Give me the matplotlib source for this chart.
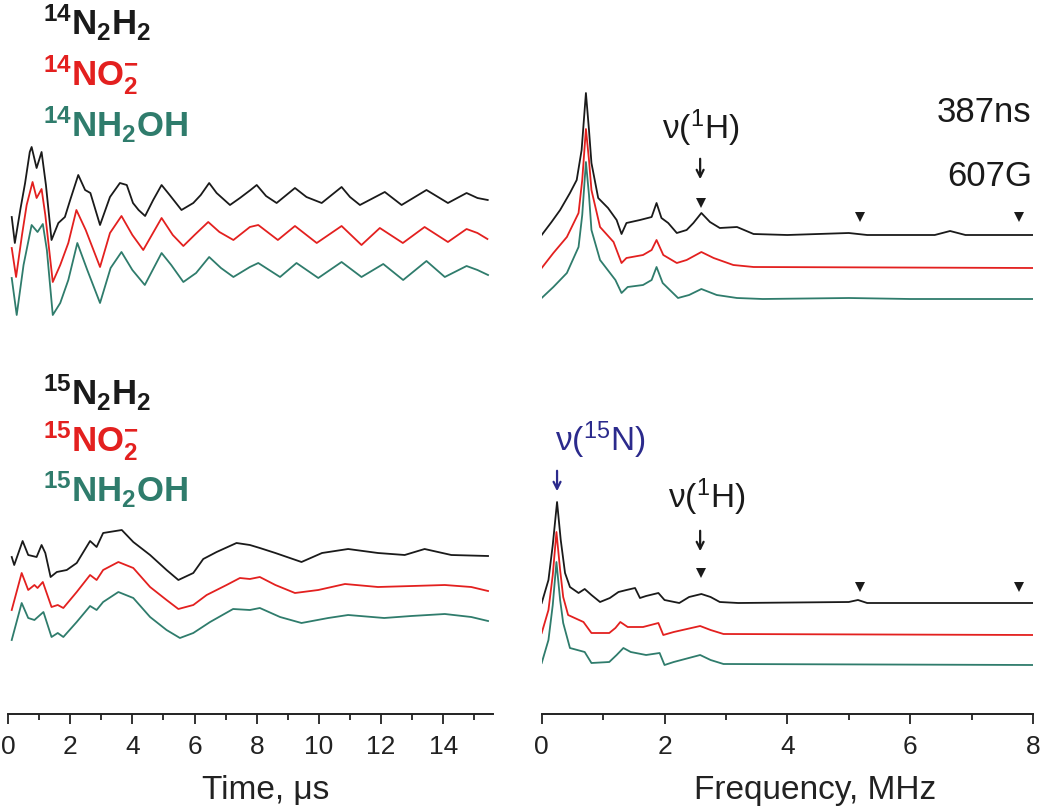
import numpy as np
import matplotlib
matplotlib.use("Agg")
import matplotlib.pyplot as plt

plt.rcParams['font.family'] = ['Liberation Sans', 'DejaVu Sans']
plt.rcParams['mathtext.fontset'] = 'custom'
plt.rcParams['mathtext.rm'] = 'Liberation Sans'
plt.rcParams['mathtext.bf'] = 'Liberation Sans:bold'
plt.rcParams['mathtext.it'] = 'Liberation Sans:italic'
plt.rcParams['mathtext.default'] = 'regular'

# ---------------- data (intensity in a.u., traces already vertically offset) -------------
# Time domain, 14N samples (top)
t14_n2h2 = [0.12, 0.22, 0.4, 0.55, 0.7, 0.76, 0.92, 1.08, 1.22, 1.40, 1.62, 1.83, 2.0, 2.26, 2.48, 2.65,
            2.96, 3.28, 3.6, 3.82, 4.02, 4.2, 4.41, 4.67, 4.94, 5.2, 5.58, 5.96, 6.2, 6.47, 6.71, 7.14,
            7.46, 7.8, 8.0, 8.3, 8.64, 9.23, 9.6, 10.09, 10.73, 11.0, 11.32, 12.12, 12.66, 13.46,
            14.15, 14.75, 15.1, 15.43]
y14_n2h2 = [497, 471, 505, 531, 562, 567, 546, 562, 529, 474, 491, 497, 514, 539, 524, 521,
            489, 517, 531, 529, 511, 504, 498, 514, 529, 519, 504, 511, 519, 531, 521, 509,
            516, 524, 529, 518, 511, 526, 517, 511, 527, 517, 509, 522, 509, 524,
            511, 521, 516, 514]

t14_no2 = [0.12, 0.26, 0.45, 0.6, 0.79, 0.92, 1.08, 1.2, 1.44, 1.68, 1.94, 2.2, 2.5, 2.96, 3.28, 3.65,
           4.0, 4.35, 4.94, 5.3, 5.64, 6.0, 6.44, 6.8, 7.25, 7.78, 8.05, 8.68, 9.23, 9.93, 10.73,
           11.37, 11.96, 12.7, 13.4, 14.15, 14.75, 15.1, 15.42]
y14_no2 = [466, 437, 479, 509, 532, 516, 525, 499, 432, 449, 471, 504, 484, 447, 481, 498,
           479, 464, 496, 479, 468, 479, 492, 482, 474, 487, 489, 474, 488, 471, 488,
           469, 486, 471, 487, 472, 485, 481, 475]

t14_nh2oh = [0.12, 0.28, 0.5, 0.76, 0.95, 1.12, 1.25, 1.44, 1.68, 1.94, 2.23, 2.55, 2.96, 3.3, 3.65,
             4.0, 4.4, 4.94, 5.25, 5.64, 6.05, 6.47, 6.85, 7.25, 7.78, 8.05, 8.75, 9.28, 9.98,
             10.73, 11.37, 12.07, 12.71, 13.46, 14.05, 14.75, 15.1, 15.44]
y14_nh2oh = [436, 399, 449, 489, 482, 490, 464, 399, 411, 434, 471, 444, 411, 446, 462,
             444, 429, 461, 449, 432, 441, 457, 446, 437, 447, 451, 437, 451, 436,
             452, 437, 450, 434, 453, 437, 448, 444, 439]

# Time domain, 15N samples (bottom)
t15_n2h2 = [0.12, 0.2, 0.47, 0.65, 0.92, 1.08, 1.2, 1.37, 1.57, 1.89, 2.21, 2.64, 2.85, 3.06, 3.66,
            4.03, 4.57, 5.1, 5.48, 5.96, 6.28, 6.71, 7.35, 7.78, 8.1, 8.6, 9.44, 10.1, 10.94,
            11.9, 12.76, 13.4, 14.26, 15.44]
y15_n2h2 = [157, 149, 173, 159, 157, 169, 161, 137, 142, 144, 151, 173, 167, 181, 184,
            172, 159, 144, 134, 141, 155, 162, 171, 169, 166, 161, 152, 161, 165,
            161, 159, 165, 159, 158]

t15_no2 = [0.12, 0.44, 0.65, 0.85, 0.95, 1.12, 1.4, 1.6, 1.78, 2.21, 2.64, 2.85, 3.06, 3.55, 4.03,
           4.57, 5.1, 5.48, 5.96, 6.39, 7.03, 7.46, 7.78, 8.1, 8.6, 9.23, 9.98, 10.84, 11.9,
           13.0, 14.05, 14.9, 15.44]
y15_no2 = [104, 141, 124, 129, 126, 132, 107, 109, 106, 122, 139, 134, 144, 152, 146,
           127, 114, 105, 109, 119, 129, 136, 135, 137, 129, 121, 124, 130, 127,
           128, 129, 127, 123]

t15_nh2oh = [0.12, 0.44, 0.65, 0.85, 1.14, 1.4, 1.6, 1.78, 2.21, 2.64, 2.85, 3.06, 3.55, 4.03, 4.57,
             5.1, 5.53, 5.96, 6.5, 7.24, 7.78, 8.1, 8.75, 9.44, 10.3, 10.94, 12.1, 12.97, 14.05,
             14.9, 15.44]
y15_nh2oh = [74, 111, 96, 94, 102, 77, 81, 77, 92, 108, 104, 112, 122, 116, 97,
             84, 76, 81, 92, 105, 104, 106, 97, 91, 96, 99, 96, 98, 100,
             97, 93]

# Frequency domain, 14N samples (top)
f14_n2h2 = [0, 0.16, 0.3, 0.46, 0.57, 0.65, 0.72, 0.77, 0.81, 0.92, 1.08, 1.22, 1.3, 1.38, 1.6, 1.79,
            1.87, 1.95, 2.06, 2.2, 2.36, 2.47, 2.6, 2.74, 2.9, 3.18, 3.45, 4.0, 5.0, 5.3, 6.4,
            6.65, 6.9, 8.0]
s14_n2h2 = [479, 492, 504, 521, 534, 564, 621, 584, 551, 516, 506, 494, 480, 491, 494, 497,
            511, 496, 491, 481, 484, 491, 501, 492, 486, 487, 480, 479, 481, 479, 479,
            483, 479, 479]

f14_no2 = [0, 0.19, 0.41, 0.6, 0.66, 0.72, 0.77, 0.81, 0.95, 1.17, 1.3, 1.38, 1.65, 1.79, 1.87,
           1.98, 2.2, 2.36, 2.6, 2.8, 3.12, 3.45, 8.0]
s14_no2 = [446, 461, 477, 501, 534, 585, 554, 524, 487, 472, 451, 456, 459, 464, 474,
           459, 451, 454, 462, 456, 449, 447, 446]

f14_nh2oh = [0, 0.19, 0.41, 0.6, 0.66, 0.72, 0.77, 0.81, 0.95, 1.2, 1.3, 1.4, 1.65, 1.79, 1.87,
             1.97, 2.22, 2.4, 2.6, 2.85, 3.18, 3.6, 5.0, 6.0, 8.0]
s14_nh2oh = [416, 427, 441, 467, 499, 552, 519, 484, 454, 434, 421, 427, 429, 434, 447,
             431, 416, 419, 425, 419, 416, 415, 416, 415, 415]

# Frequency domain, 15N samples (bottom)
f15_n2h2 = [0, 0.11, 0.18, 0.25, 0.31, 0.38, 0.46, 0.6, 0.7, 0.81, 0.95, 1.11, 1.25, 1.38, 1.52,
            1.6, 1.7, 1.9, 2.0, 2.24, 2.4, 2.6, 2.75, 2.9, 3.2, 5.0, 5.15, 5.3, 8.0]
s15_n2h2 = [111, 134, 169, 212, 174, 141, 127, 121, 125, 119, 112, 116, 122, 124, 126,
            116, 118, 121, 114, 111, 117, 120, 117, 112, 111, 112, 114, 111, 111]

f15_no2 = [0, 0.11, 0.18, 0.24, 0.3, 0.35, 0.43, 0.68, 0.81, 1.1, 1.2, 1.28, 1.4, 1.65, 1.9,
           1.98, 2.15, 2.58, 2.75, 2.96, 8.0]
s15_no2 = [81, 104, 139, 182, 144, 117, 99, 92, 81, 81, 86, 92, 87, 87, 91,
           79, 82, 88, 84, 80, 79]

f15_nh2oh = [0, 0.11, 0.18, 0.24, 0.3, 0.35, 0.46, 0.7, 0.81, 1.1, 1.22, 1.33, 1.45, 1.7, 1.92,
             2.0, 2.15, 2.58, 2.75, 2.96, 8.0]
s15_nh2oh = [51, 74, 109, 152, 114, 91, 66, 62, 51, 52, 59, 66, 62, 59, 61,
             49, 52, 59, 54, 50, 49]

# markers (proton harmonics)
tri_f = [2.6, 5.18, 7.77]
tri_top = [511, 497, 497]
tri_bot = [141, 127, 127]

time_ticks = [0, 2, 4, 6, 8, 10, 12, 14]
freq_ticks = [0, 2, 4, 6, 8]

BLACK = '#1a1a1a'
RED = '#e3201f'
TEAL = '#2f7c6c'
BLUE = '#2b2a8c'

W, H = 1050, 809
fig = plt.figure(figsize=(W / 100, H / 100), dpi=100)

def px_axes(x0, x1, ybot):
    return fig.add_axes([x0 / W, 1 - ybot / H, (x1 - x0) / W, ybot / H])

axL = px_axes(8, 493, 714)
axR = px_axes(541.7, 1033, 714)

lw = 1.3
axL.plot(t14_n2h2, y14_n2h2, color=BLACK, lw=lw)
axL.plot(t14_no2, y14_no2, color=RED, lw=lw)
axL.plot(t14_nh2oh, y14_nh2oh, color=TEAL, lw=lw)
axL.plot(t15_n2h2, y15_n2h2, color=BLACK, lw=lw)
axL.plot(t15_no2, y15_no2, color=RED, lw=lw)
axL.plot(t15_nh2oh, y15_nh2oh, color=TEAL, lw=lw)

axR.plot(f14_n2h2, s14_n2h2, color=BLACK, lw=lw)
axR.plot(f14_no2, s14_no2, color=RED, lw=lw)
axR.plot(f14_nh2oh, s14_nh2oh, color=TEAL, lw=lw)
axR.plot(f15_n2h2, s15_n2h2, color=BLACK, lw=lw)
axR.plot(f15_no2, s15_no2, color=RED, lw=lw)
axR.plot(f15_nh2oh, s15_nh2oh, color=TEAL, lw=lw)

axR.plot(tri_f, tri_top, 'v', color=BLACK, ms=7, mew=0)
axR.plot(tri_f, tri_bot, 'v', color=BLACK, ms=7, mew=0)

for ax, xmax, ticks, lab, lx in [(axL, 15.6, time_ticks, 'Time, \u03bcs', 0.532),
                                 (axR, 8.0, freq_ticks, 'Frequency, MHz', 0.556)]:
    ax.set_xlim(0, xmax)
    ax.set_ylim(0, 714)
    for s in ['top', 'left', 'right']:
        ax.spines[s].set_visible(False)
    ax.spines['bottom'].set_linewidth(1.4)
    ax.spines['bottom'].set_color('#222222')
    ax.set_yticks([])
    ax.set_xticks(ticks)
    ax.set_xticks([v + 1 for v in ticks if v + 1 <= xmax], minor=True)
    ax.tick_params(axis='x', which='major', direction='out', length=7, width=1.3,
                   labelsize=19, pad=8, colors='#222222')
    ax.tick_params(axis='x', which='minor', direction='out', length=4, width=1.3,
                   colors='#222222')
    ax.set_xlabel(lab, fontsize=24, color='#222222')
    ax.xaxis.set_label_coords(lx, -0.085)
    ax.patch.set_alpha(0)

# sample labels
def lbl(y, s, c):
    fig.text(43 / W, 1 - y / H, s, color=c, fontsize=25, fontweight='bold', va='baseline', ha='left')

lbl(35, r'$^{14}$N$_2$H$_2$', BLACK)
lbl(85, r'$^{14}$NO$_2^{\mathregular{-}}$', RED)
lbl(137, r'$^{14}$NH$_2$OH', TEAL)
lbl(405, r'$^{15}$N$_2$H$_2$', BLACK)
lbl(451, r'$^{15}$NO$_2^{\mathregular{-}}$', RED)
lbl(502, r'$^{15}$NH$_2$OH', TEAL)

# annotations on spectra
axR.text(2.58, 586, '\u03bd($^1$H)', fontsize=24, ha='center', va='center', color=BLACK)
axR.text(2.69, 217, '\u03bd($^1$H)', fontsize=24, ha='center', va='center', color=BLACK)
axR.text(0.95, 274, '\u03bd($^{15}$N)', fontsize=24, ha='center', va='center', color=BLUE)
axR.text(7.98, 602, '387ns', fontsize=25, ha='right', va='center', color=BLACK)
axR.text(7.98, 537, '607G', fontsize=25, ha='right', va='center', color=BLACK)

arrow = dict(arrowstyle='->,head_length=0.5,head_width=0.25', lw=1.6)
axR.annotate('', xy=(2.58, 532), xytext=(2.58, 558), arrowprops=dict(color=BLACK, **arrow))
axR.annotate('', xy=(2.58, 160), xytext=(2.58, 186), arrowprops=dict(color=BLACK, **arrow))
axR.annotate('', xy=(0.25, 220), xytext=(0.25, 246), arrowprops=dict(color=BLUE, **arrow))

fig.savefig('out.png', dpi=100)
